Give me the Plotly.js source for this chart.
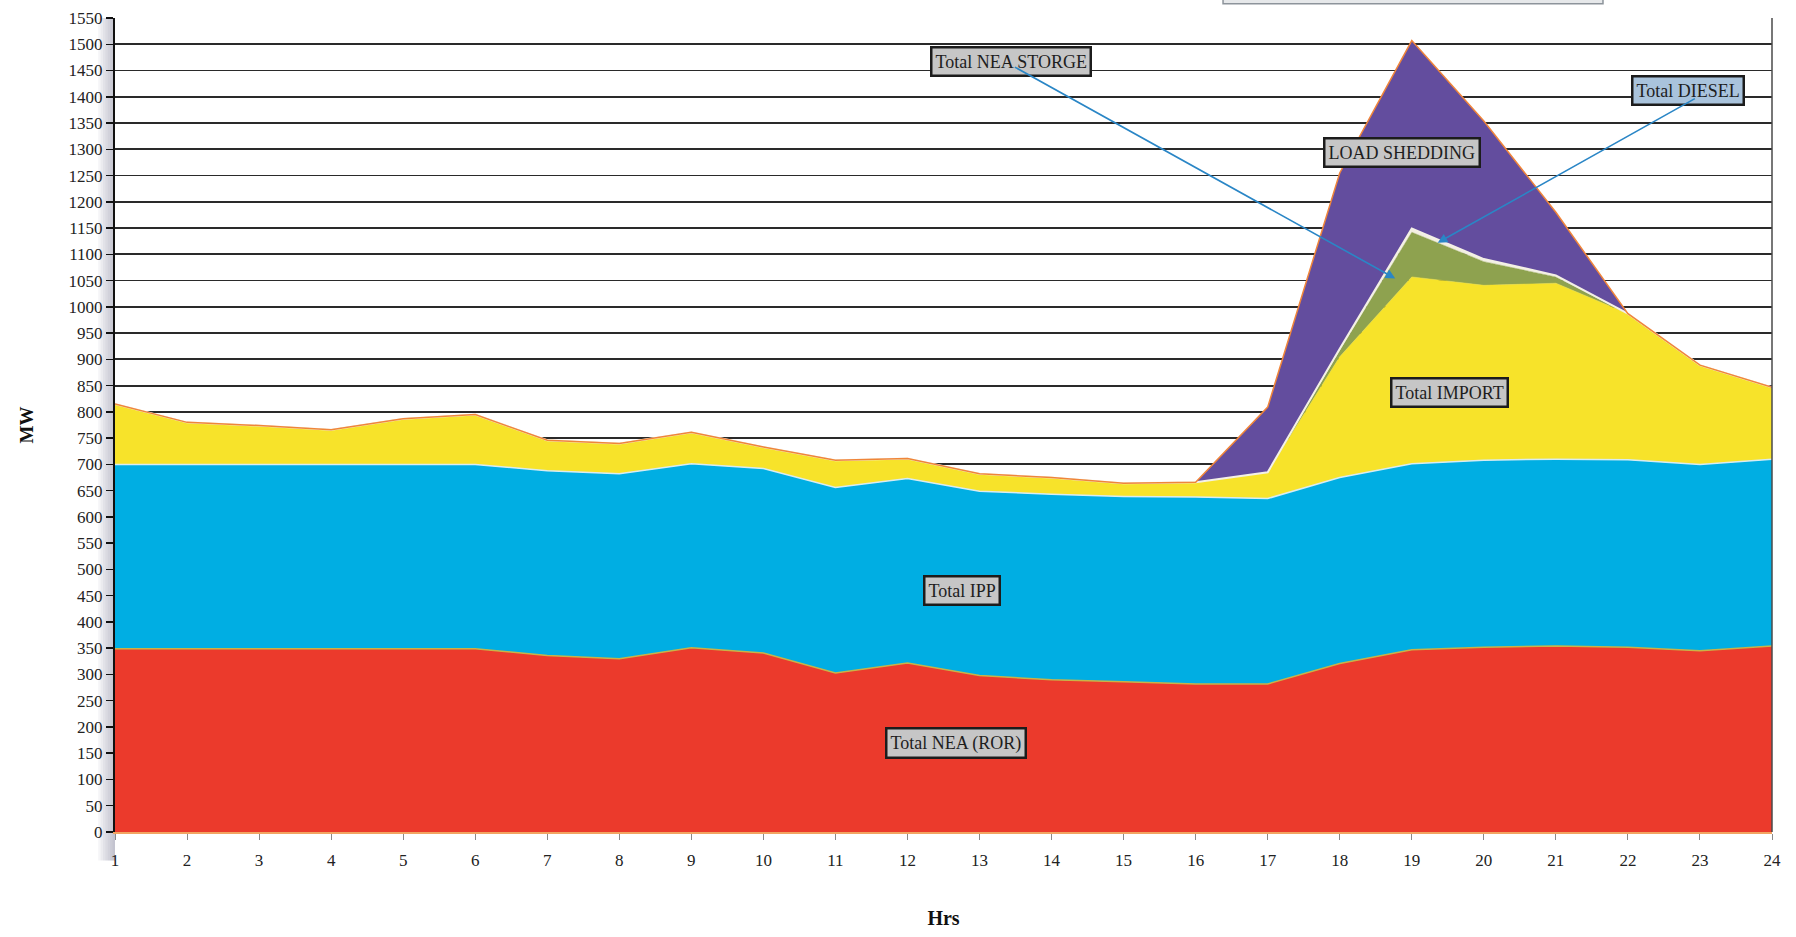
<!DOCTYPE html>
<html>
<head>
<meta charset="utf-8">
<script src="https://cdn.plot.ly/plotly-3.0.1.min.js"></script>
<style>
  html, body { margin: 0; padding: 0; background: #ffffff; }
  #chart { width: 1796px; height: 937px; }
</style>
</head>
<body>
<div id="chart"></div>
<script>
// ---- data (MW per hour, stacked from bottom) ----
const hours = [1,2,3,4,5,6,7,8,9,10,11,12,13,14,15,16,17,18,19,20,21,22,23,24];
const neaRor       = [349,349,349,349,349,349,336,330,351,341,303,322,298,290,286,282,282,321,347,352,354,352,345,354];
const ipp          = [351,351,351,351,351,351,352,352,350,351,353,351,351,353,353,356,353,354,354,356,356,357,355,356];
const importMW     = [115,80,74,66,87,95,58,58,60,41,52,38,33,32,25,28,50,230,356,333,335,278,189,137];
const neaStorage   = [0,0,0,0,0,0,0,0,0,0,0,0,0,0,0,0,0,12,85,45,12,0,0,0];
const diesel       = [0,0,0,0,0,0,0,0,0,0,0,0,0,0,0,0,0,3,7,5,3,0,0,0];
const loadShedding = [0,0,0,0,0,0,0,0,0,0,0,0,0,0,0,0,124,335,358,263,120,0,0,0];
const yTicks = [];
for (let v = 0; v <= 1550; v += 50) yTicks.push(v);

const serif = "'Liberation Serif', 'Times New Roman', serif";

function area(name, y, fill, lineColor, lineWidth) {
  return {
    type: 'scatter', mode: 'lines', name: name, x: hours, y: y,
    stackgroup: 'one', fillcolor: fill,
    line: { color: lineColor, width: lineWidth, shape: 'linear' },
    hoverinfo: 'skip'
  };
}

const traces = [
  area('Total NEA (ROR)', neaRor, '#eb3a2c', '#c9b347', 1.5),
  area('Total IPP', ipp, '#00aee3', '#d8ecf2', 1.5),
  area('Total IMPORT', importMW, '#f7e32a', '#f7e32a', 0.5),
  area('Total NEA STORGE', neaStorage, '#8ea24f', '#8ea24f', 0.5),
  area('Total DIESEL', diesel, '#f3efe2', '#f4f1e6', 2),
  area('LOAD SHEDDING', loadShedding, '#634d9e', '#f0853a', 1.5)
];

function box(text, x, y, bg) {
  return {
    text: text, xref: 'x', yref: 'y', x: x, y: y, showarrow: false,
    font: { family: serif, size: 18, color: '#1e1e1e' },
    bgcolor: bg || '#c6c6c6', bordercolor: '#1c1c1c', borderwidth: 2.5, borderpad: 3
  };
}
function arrow(tipX, tipY, tailX, tailY) {
  return {
    text: '', xref: 'x', yref: 'y', x: tipX, y: tipY,
    axref: 'x', ayref: 'y', ax: tailX, ay: tailY,
    showarrow: true, arrowhead: 2, arrowsize: 1.2, arrowwidth: 1.6, arrowcolor: '#2a86c6'
  };
}

// label positions (data coordinates)
const annotations = [
  box('Total NEA STORGE', 13.43, 1468),
  box('LOAD SHEDDING', 18.87, 1294),
  box('Total DIESEL', 22.83, 1412, '#a9c3dc'),
  box('Total IMPORT', 19.53, 837),
  box('Total IPP', 12.76, 460),
  box('Total NEA (ROR)', 12.68, 169),
  arrow(18.77, 1054, 13.47, 1458),
  arrow(19.36, 1122, 22.95, 1398)
];

// shadow to the left of the value axis
const shapes = [];
for (let i = 1; i <= 7; i++) {
  shapes.push({
    type: 'rect', xref: 'paper', yref: 'paper', layer: 'below',
    x0: -(i * 2.4) / 1657, x1: 0, y0: -0.035, y1: 1,
    fillcolor: 'rgba(110,120,135,0.07)', line: { width: 0 }
  });
}
// right border
shapes.push({
  type: 'line', xref: 'paper', yref: 'paper', layer: 'above',
  x0: 1, x1: 1, y0: 0, y1: 1, line: { color: '#4a4a4a', width: 1.5 }
});
// partially visible box above the plot
shapes.push({
  type: 'rect', xref: 'paper', yref: 'paper', layer: 'above',
  x0: 0.6687, x1: 0.898, y0: 1.0175, y1: 1.06,
  fillcolor: '#e6e8ea', line: { color: '#8d949b', width: 1.5 }
});

const layout = {
  width: 1796, height: 937,
  margin: { l: 115, r: 24, t: 18, b: 105 },
  paper_bgcolor: '#ffffff', plot_bgcolor: '#ffffff',
  showlegend: false,
  hovermode: false,
  font: { family: serif, color: '#222' },
  xaxis: {
    range: [1, 24], tickmode: 'array', tickvals: hours, ticktext: hours.map(String),
    ticks: 'outside', ticklen: 6, tickcolor: '#8a8a8a', tickwidth: 1,
    ticklabelstandoff: 6,
    showline: true, linecolor: '#f2a562', linewidth: 2,
    showgrid: false, zeroline: false,
    tickfont: { family: serif, size: 17, color: '#222' },
    title: { text: '<b>Hrs</b>', font: { family: serif, size: 20, color: '#111' }, standoff: 42 }
  },
  yaxis: {
    range: [0, 1550], tickmode: 'array', tickvals: yTicks, ticktext: yTicks.map(String),
    ticks: 'outside', ticklen: 7, tickcolor: '#111', tickwidth: 1.5,
    showline: true, linecolor: '#111', linewidth: 2,
    showgrid: true, gridcolor: '#2a2a2a', gridwidth: 1.8, zeroline: false,
    tickfont: { family: serif, size: 17, color: '#222' },
    title: { text: '<b>MW</b>', font: { family: serif, size: 19, color: '#111' }, standoff: 30 }
  },
  annotations: annotations,
  shapes: shapes
};

Plotly.newPlot('chart', traces, layout, { displayModeBar: false, staticPlot: true });
</script>
</body>
</html>
